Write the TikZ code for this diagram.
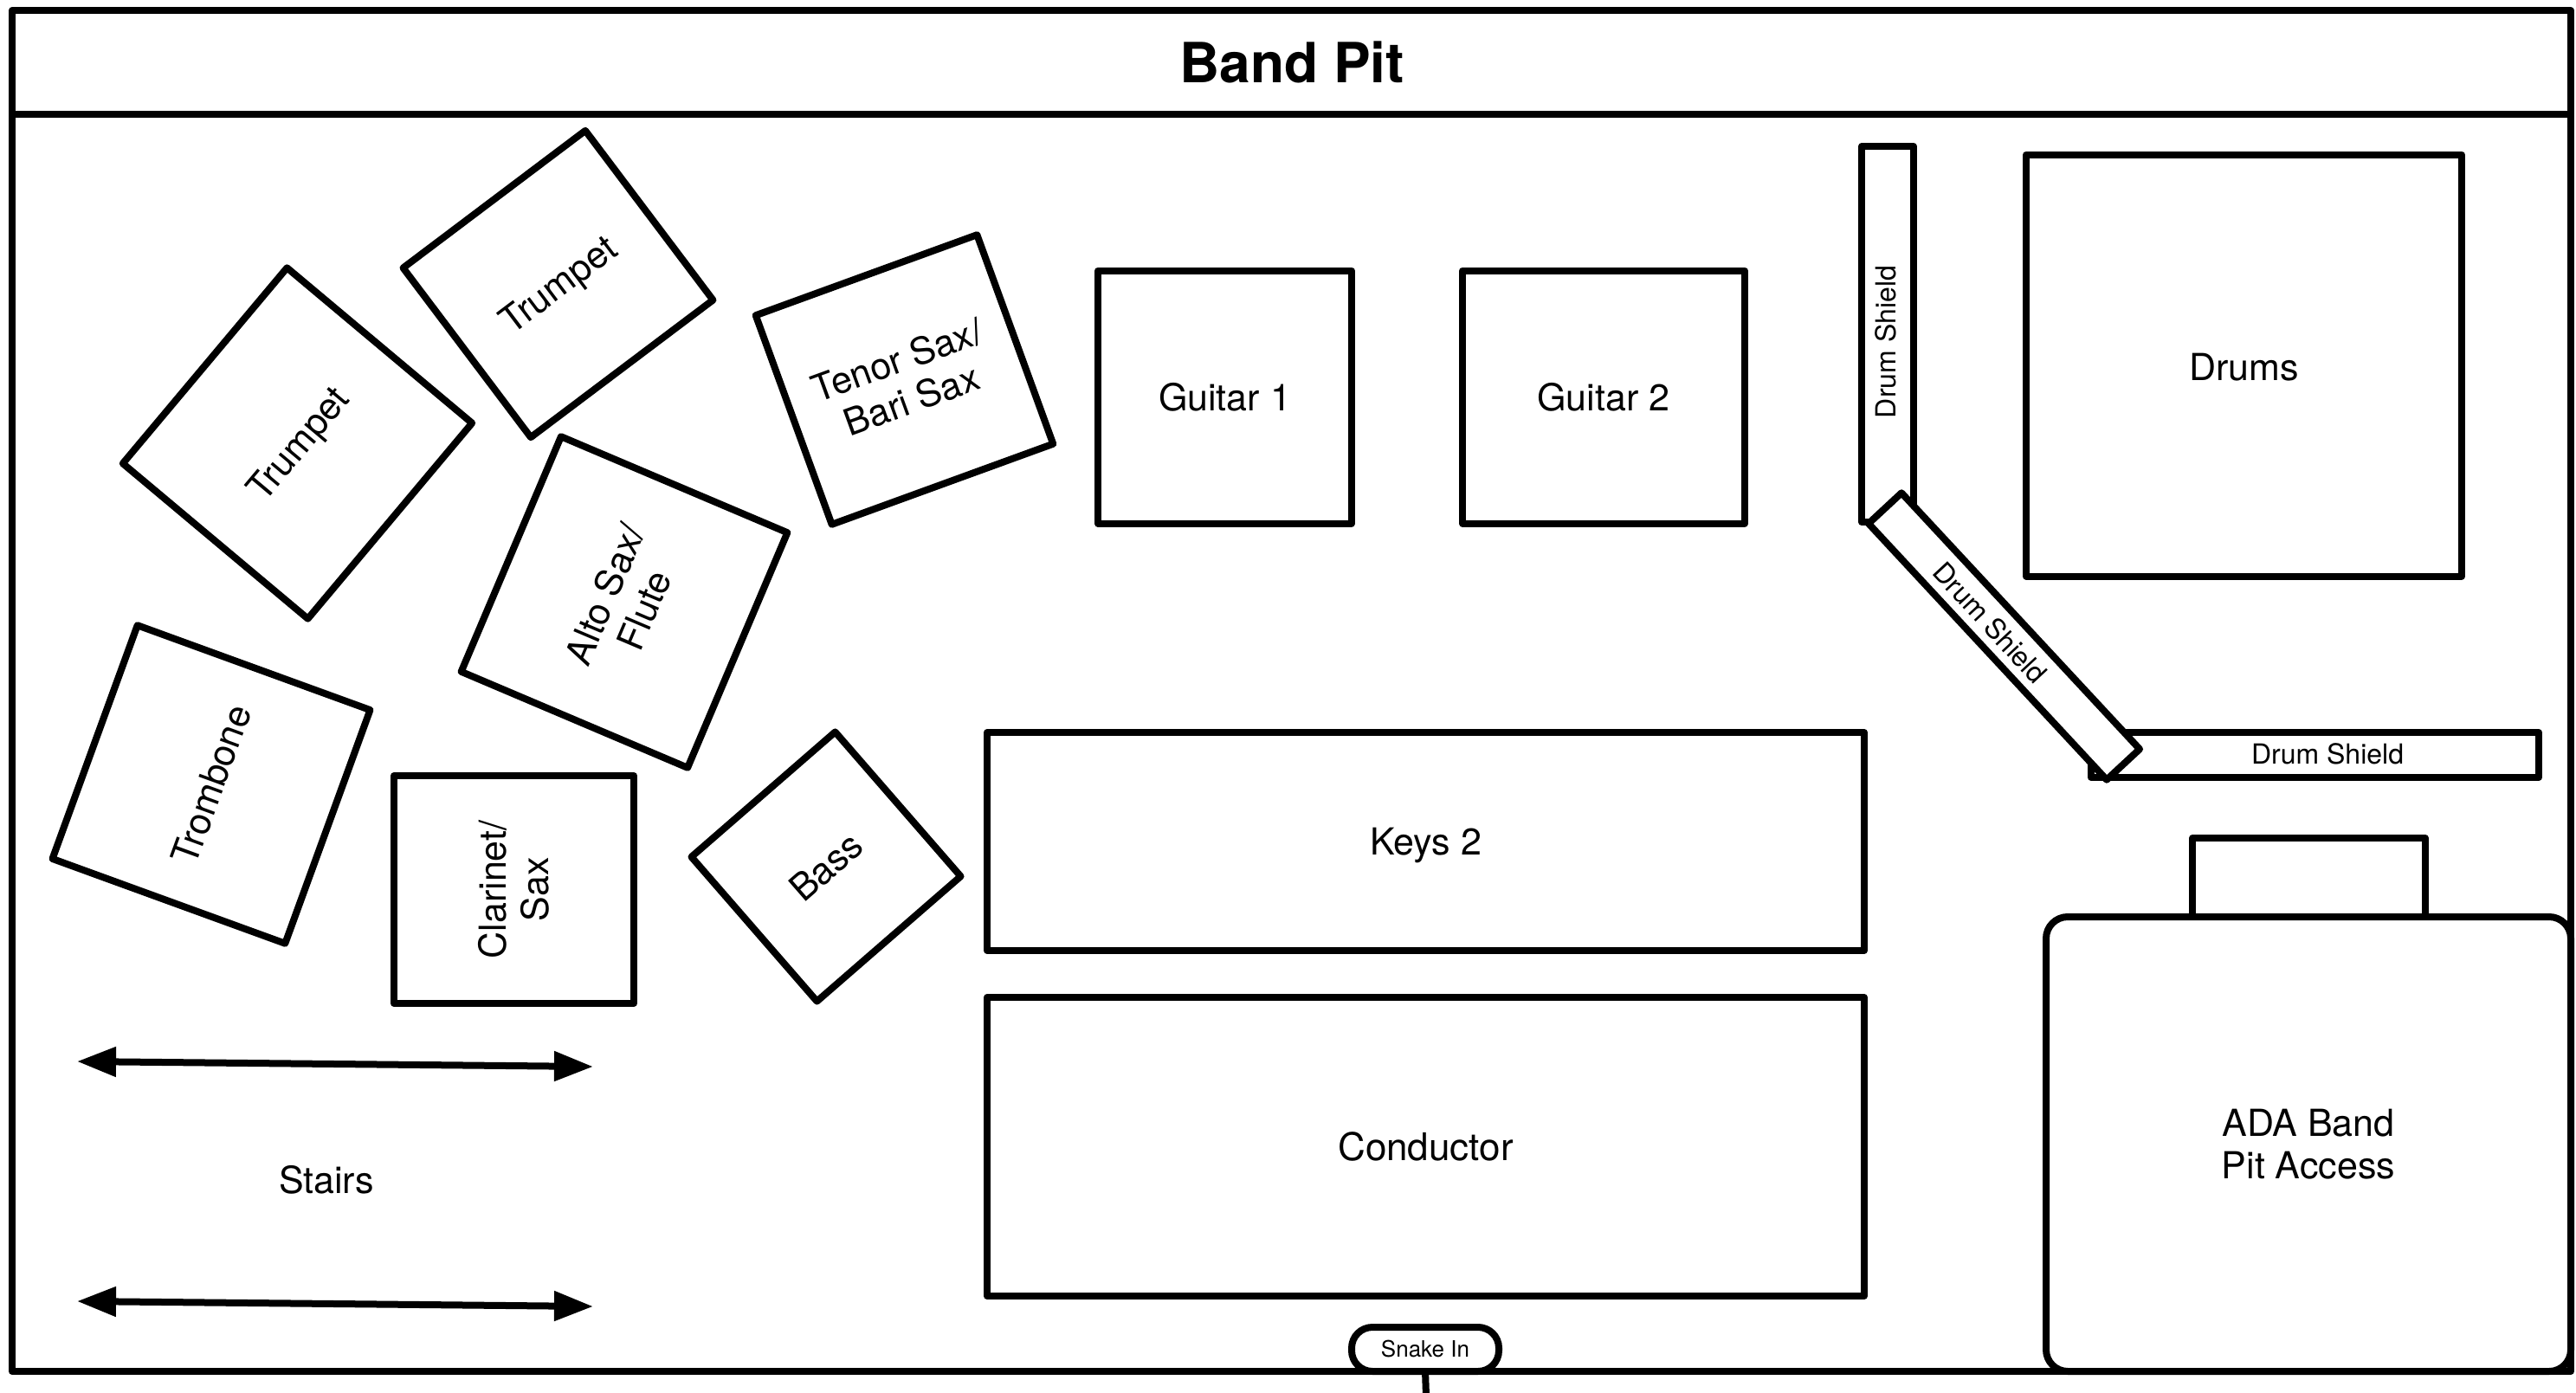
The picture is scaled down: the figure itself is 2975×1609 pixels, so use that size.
\documentclass[tikz,border=0pt]{standalone}
\usepackage{fontspec}
\setmainfont{TeX Gyre Heros}
\usetikzlibrary{arrows.meta}
\tikzset{
  lw/.style={line width=8pt,line join=round},
  txt/.style={inner sep=0pt,outer sep=0pt,align=center,font=\fontsize{43}{49}\selectfont},
  box/.style={lw,draw=black,rectangle,txt},
  capcentred/.style={text height=31pt,text depth=0pt},
  smalltxt/.style={txt,font=\fontsize{32}{38}\selectfont},
  stairarrow/.style={lw,{Triangle[length=45pt,width=33pt]}-{Triangle[length=45pt,width=33pt]}},
}
\begin{document}
\begin{tikzpicture}[x=1pt,y=-1pt]
\useasboundingbox (0,0) rectangle (2975,1609);
% frame
\node[lw,draw,rectangle,inner sep=0pt,outer sep=0pt,minimum width=2955pt,minimum height=120pt] (header) at (1491.5,72) {};
\node[txt,font=\fontsize{64}{70}\bfseries\selectfont] (title) at (1492,72) {Band Pit};
\node[lw,draw,rectangle,inner sep=0pt,outer sep=0pt,minimum width=2955pt,minimum height=1452pt] (pit) at (1491.5,858) {};
% musicians
\node[box,capcentred,rotate=50,minimum width=295pt,minimum height=279pt] (tp1) at (343.5,512) {Trumpet};
\node[box,capcentred,rotate=37,minimum width=263.5pt,minimum height=245pt] (tp2) at (644.5,328) {Trumpet};
\node[box,rotate=67,minimum width=295pt,minimum height=284pt] (alto) at (721,695.5) {Alto Sax/\\Flute};
\node[box,rotate=20,minimum width=272pt,minimum height=257pt] (tenor) at (1044.5,438.5) {Tenor Sax/\\Bari Sax};
\node[box,minimum width=293pt,minimum height=292pt] (gtr1) at (1414.5,458.5) {Guitar 1};
\node[box,minimum width=326pt,minimum height=292pt] (gtr2) at (1852,458.5) {Guitar 2};
\node[box,rotate=70,minimum width=287pt,minimum height=286pt] (tbn) at (244,906) {Trombone};
\node[box,rotate=90,minimum width=263pt,minimum height=277pt] (clar) at (593.5,1027.5) {Clarinet/\\Sax};
\node[box,rotate=41,minimum width=220pt,minimum height=221pt] (bass) at (954,1001) {Bass};
\node[box,capcentred,minimum width=1013pt,minimum height=252pt] (keys) at (1646.5,972) {Keys 2};
\node[box,font=\fontsize{44}{49}\selectfont,minimum width=1013pt,minimum height=345pt] (cond) at (1646.5,1324.5) {Conductor};
\node[box,text height=34pt,text depth=0pt,minimum width=503pt,minimum height=487pt] (drums) at (2591.5,422) {Drums};
% drum shields
\node[box,minimum width=60pt,minimum height=434pt] (shieldv) at (2180,386) {};
\node[smalltxt,rotate=90] (shieldvt) at (2178,395) {Drum Shield};
\node[box,minimum width=517pt,minimum height=52pt] (shieldh) at (2673.5,872) {};
\node[smalltxt] (shieldht) at (2688,871) {Drum Shield};
\node[box,fill=white,rotate=-47.1,minimum width=404pt,minimum height=52pt] (shieldd) at (2314.5,735) {};
\node[smalltxt,rotate=-47.1] (shielddt) at (2298.5,719.5) {Drum Shield};
% ADA
\node[box,minimum width=269pt,minimum height=91pt] (adatop) at (2666.5,1013.5) {};
\node[box,rounded corners=25pt,minimum width=606pt,minimum height=525pt] (ada) at (2666,1321.5) {ADA Band\\Pit Access};
% stairs
\coordinate (s1l) at (89,1226);
\coordinate (s1r) at (685,1232);
\coordinate (s2l) at (89,1503);
\coordinate (s2r) at (685,1509);
\draw[stairarrow] (s1l) -- (s1r);
\draw[stairarrow] (s2l) -- (s2r);
\node[txt] (stairs) at (377,1363) {Stairs};
% snake
\node[lw,draw,rectangle,rounded corners=24pt,txt,font=\fontsize{26}{30}\selectfont,minimum width=170pt,minimum height=51pt] (snake) at (1646,1558.5) {Snake In};
\coordinate (tail) at (1647,1612);
\draw[lw] (snake.south) -- (tail);
\end{tikzpicture}
\end{document}
